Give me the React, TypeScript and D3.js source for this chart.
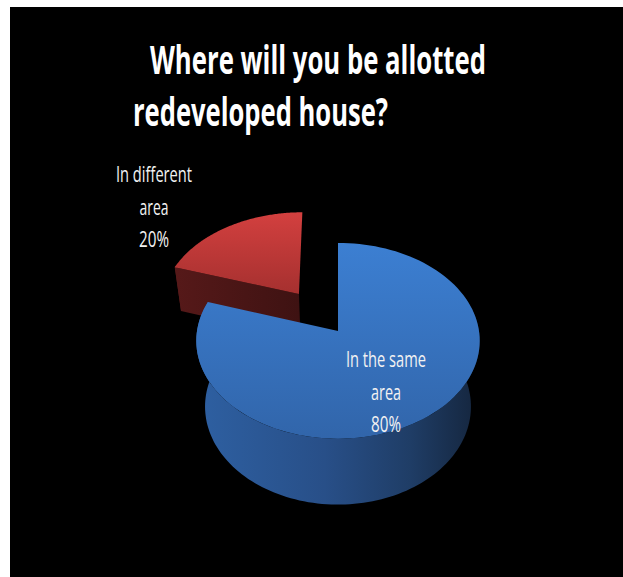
import React from 'react';
import * as d3 from 'd3';

// ---------------- data ----------------
const categories = ['In the same area', 'In different area'];
const values = [80, 20];
const labelLines = [['In the same', 'area'], ['In different', 'area']];
const titleLines = ['Where will you be allotted', 'redeveloped house?'];

// ---------------- layout / style ----------------
const W = 623;
const H = 577;
const CX = 338;
const CY = 331;
const A = 141; // screen radius scale
const TILT = (43.4 * Math.PI) / 180;
const PERSP = 0.1375;
const explode = [0, 0.49];
const thickness = [0.69, 0.45];

const topFill = ['url(#blueTop)', 'url(#redTop)'];
const wallFill = ['url(#blueWall)', 'url(#redWall)'];
const faceFill = ['#244c85', 'url(#redFace)'];

// label layout: [x center, first baseline, line gap, widths]
const labelLayout = [
  { x: 386, y: 367, gap: 32.5, widths: [80, 30, 30] },
  { x: 154, y: 182, gap: 32.5, widths: [76, 29, 30] },
];
const titleLayout = [
  { x: 150, y: 74, w: 336 },
  { x: 133, y: 126, w: 255 },
];

function project(xp: number, zp: number, yp: number): [number, number] {
  const c = Math.cos(TILT);
  const s = Math.sin(TILT);
  const d = 1 + PERSP * (zp * c - yp * s);
  return [CX + (A * xp) / d, CY - (A * (yp * c + zp * s)) / d];
}

const line = d3.line<[number, number]>();

export default function App() {
  const total = d3.sum(values);
  const arcs = d3
    .pie<number>()
    .sort(null)
    .value((d) => d)(values);

  const slices = arcs.map((a, i) => {
    const mid = (a.startAngle + a.endAngle) / 2;
    const ox = explode[i] * Math.sin(mid);
    const oz = explode[i] * Math.cos(mid);
    const h = -thickness[i];
    const pt = (ang: number, y: number) => project(ox + Math.sin(ang), oz + Math.cos(ang), y);
    const ctr = (y: number) => project(ox, oz, y);
    const n = 120;
    const sample = (a0: number, a1: number) =>
      d3.range(n + 1).map((k) => a0 + ((a1 - a0) * k) / n);

    const topPts: [number, number][] = [ctr(0), ...sample(a.startAngle, a.endAngle).map((t) => pt(t, 0))];
    const top = line(topPts) + 'Z';

    const w0 = Math.max(a.startAngle, Math.PI / 2 - 0.35);
    const w1 = Math.min(a.endAngle, (3 * Math.PI) / 2 + 0.35);
    let wall: string | null = null;
    if (w1 > w0) {
      const angs = sample(w0, w1);
      const pts: [number, number][] = [
        ...angs.map((t) => pt(t, 0)),
        ...angs.slice().reverse().map((t) => pt(t, h)),
      ];
      wall = line(pts) + 'Z';
    }

    const faces: string[] = [];
    if (Math.cos(a.startAngle - Math.PI / 2) < -0.01) {
      faces.push(line([ctr(0), pt(a.startAngle, 0), pt(a.startAngle, h), ctr(h)]) + 'Z');
    }
    if (Math.cos(a.endAngle + Math.PI / 2) < -0.01) {
      faces.push(line([ctr(0), pt(a.endAngle, 0), pt(a.endAngle, h), ctr(h)]) + 'Z');
    }
    return { i, top, wall, faces };
  });

  const order = [1, 0];

  return (
    <svg
      width={W}
      height={H}
      style={{ position: 'absolute', left: 0, top: 0, display: 'block' }}
      xmlns="http://www.w3.org/2000/svg"
    >
      <defs>
        <linearGradient id="blueTop" gradientUnits="userSpaceOnUse" x1="0" y1="243" x2="0" y2="440">
          <stop offset="0" stopColor="#3c7fd2" />
          <stop offset="1" stopColor="#3165aa" />
        </linearGradient>
        <linearGradient id="blueWall" gradientUnits="userSpaceOnUse" x1="196" y1="0" x2="482" y2="0">
          <stop offset="0" stopColor="#2e60a2" />
          <stop offset="0.45" stopColor="#284f88" />
          <stop offset="0.75" stopColor="#1f3d66" />
          <stop offset="1" stopColor="#14243b" />
        </linearGradient>
        <linearGradient id="redTop" gradientUnits="userSpaceOnUse" x1="0" y1="212" x2="0" y2="300">
          <stop offset="0" stopColor="#d3403f" />
          <stop offset="1" stopColor="#a22f2e" />
        </linearGradient>
        <linearGradient id="redWall" gradientUnits="userSpaceOnUse" x1="175" y1="0" x2="300" y2="0">
          <stop offset="0" stopColor="#5a1a1a" />
          <stop offset="1" stopColor="#3f1111" />
        </linearGradient>
        <linearGradient id="redFace" gradientUnits="userSpaceOnUse" x1="175" y1="0" x2="300" y2="0">
          <stop offset="0" stopColor="#561919" />
          <stop offset="1" stopColor="#3e1212" />
        </linearGradient>
      </defs>
      <rect x={10} y={7} width={W - 10} height={H - 7} fill="#000" />

      {order.map((idx) => {
        const s = slices[idx];
        return (
          <g key={categories[idx]}>
            {s.wall && <path d={s.wall} fill={wallFill[idx]} />}
            {s.faces.map((f, k) => (
              <path key={k} d={f} fill={faceFill[idx]} />
            ))}
            <path d={s.top} fill={topFill[idx]} />
          </g>
        );
      })}

      {titleLines.map((t, i) => (
        <text
          key={t}
          x={titleLayout[i].x}
          y={titleLayout[i].y}
          fill="#ffffff"
          fontFamily="'Open Sans', sans-serif"
          fontWeight="bold"
          fontSize={40}
          textLength={titleLayout[i].w}
          lengthAdjust="spacingAndGlyphs"
        >
          {t}
        </text>
      ))}

      {values.map((v, i) => {
        const lines = [...labelLines[i], `${Math.round((v / total) * 100)}%`];
        const L = labelLayout[i];
        return (
          <g key={categories[i]}>
            {lines.map((ln, k) => (
              <text
                key={k}
                x={L.x}
                y={L.y + k * L.gap}
                fill="#f2f2f2"
                fontFamily="'Open Sans', sans-serif"
                fontSize={22}
                textAnchor="middle"
                textLength={L.widths[k]}
                lengthAdjust="spacingAndGlyphs"
              >
                {ln}
              </text>
            ))}
          </g>
        );
      })}
    </svg>
  );
}
